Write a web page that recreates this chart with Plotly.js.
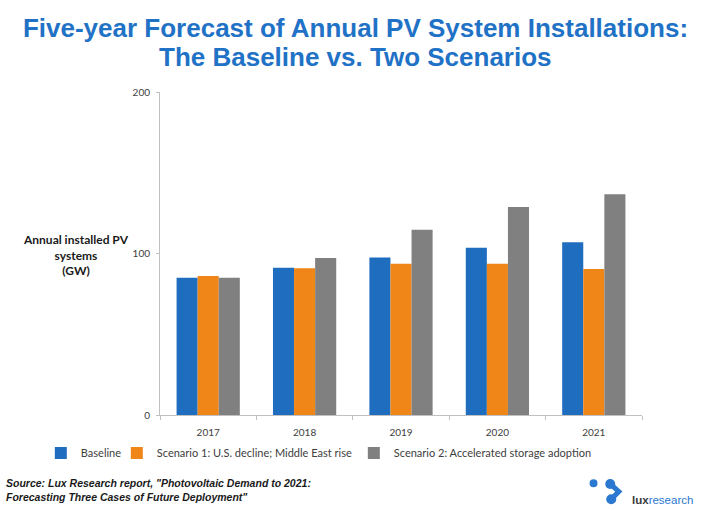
<!DOCTYPE html>
<html>
<head>
<meta charset="utf-8">
<script src="https://cdn.plot.ly/plotly-3.0.1.min.js"></script>
<style>html,body{margin:0;padding:0;background:#fff;}#chart{width:711px;height:511px;}</style>
</head>
<body>
<div id="chart"></div>
<script>
// ---- data ----
var years = ["2017", "2018", "2019", "2020", "2021"];
var baseline = [85.0, 91.2, 97.6, 103.6, 106.9];
var scenario1 = [86.1, 90.8, 93.7, 93.7, 90.4];
var scenario2 = [85.0, 97.2, 114.7, 128.8, 136.7];
var seriesNames = ["Baseline", "Scenario 1: U.S. decline; Middle East rise", "Scenario 2: Accelerated storage adoption"];
var yTickVals = [0, 100, 200];
var yTickText = ["0", "100", "200"];
var titleLine1 = "Five-year Forecast of Annual PV System Installations:";
var titleLine2 = "The Baseline vs. Two Scenarios";

// ---- layout geometry ----
var W = 711, H = 511;
var M = {l: 160, r: 68.5, t: 91.7, b: 96};
var PW = W - M.l - M.r, PH = H - M.t - M.b;
function px(x) { return (x - M.l) / PW; }
function py(y) { return (H - M.b - y) / PH; }

var colors = ["#1f6dbf", "#f08518", "#808080"];
var legW = [31, 192, 210];
var vals = [baseline, scenario1, scenario2];

var traces = vals.map(function (v, i) {
  return {
    type: "bar", x: years, y: v, name: seriesNames[i],
    marker: {color: colors[i], line: {width: 0}},
    legendwidth: legW[i],
    hoverinfo: "x+y+name"
  };
});

var logoBlue = "#2a78cf";
var titleBlue = "#1f72c6";
var shapes = [
  {type: "path", xref: "paper", yref: "paper",
   path: "M" + px(610.7) + "," + py(484) + " L" + px(619.3) + "," + py(491.7) + " L" + px(611.7) + "," + py(499.3),
   line: {color: logoBlue, width: 5}},
  {type: "circle", xref: "paper", yref: "paper", x0: px(590), x1: px(598), y0: py(487.3), y1: py(479.3),
   fillcolor: logoBlue, line: {width: 0}},
  {type: "circle", xref: "paper", yref: "paper", x0: px(605.7), x1: px(615.7), y0: py(489), y1: py(479),
   fillcolor: logoBlue, line: {width: 0}},
  {type: "circle", xref: "paper", yref: "paper", x0: px(606.7), x1: px(616.7), y0: py(504.3), y1: py(494.3),
   fillcolor: logoBlue, line: {width: 0}}
];

var titleFont = {family: "Arial, 'Liberation Sans', sans-serif", size: 26, color: titleBlue};

var layout = {
  width: W, height: H,
  margin: M,
  paper_bgcolor: "#ffffff", plot_bgcolor: "#ffffff",
  font: {family: "Lato, 'Open Sans', sans-serif", color: "#404040", size: 11},
  title: {
    text: "<b>" + titleLine1 + "</b>",
    font: titleFont,
    x: 0.5, xanchor: "center", xref: "container",
    y: 1 - 28 / H, yanchor: "middle", yref: "container"
  },
  barmode: "group",
  bargap: 0.344,
  bargroupgap: 0,
  xaxis: {
    type: "category",
    showline: true, linecolor: "#c0c0c0", linewidth: 1,
    ticks: "outside", tickson: "boundaries", ticklen: 4, tickcolor: "#c0c0c0",
    tickfont: {size: 10, color: "#404040"},
    ticklabelstandoff: 8,
    showgrid: false, zeroline: false,
    fixedrange: true
  },
  yaxis: {
    range: [0, 200],
    tickvals: yTickVals, ticktext: yTickText,
    showline: true, linecolor: "#c0c0c0", linewidth: 1,
    ticks: "outside", ticklen: 3, tickcolor: "#c0c0c0",
    tickfont: {size: 10, color: "#404040"},
    ticklabelstandoff: 4,
    showgrid: false, zeroline: false,
    fixedrange: true
  },
  showlegend: true,
  legend: {
    orientation: "h",
    xref: "paper", yref: "paper",
    x: px(40.7), xanchor: "left",
    y: py(438.5), yanchor: "top",
    itemwidth: 30,
    font: {size: 11, color: "#404040"},
    bgcolor: "rgba(0,0,0,0)",
    itemclick: false, itemdoubleclick: false
  },
  shapes: shapes,
  annotations: [
    {text: "<b>" + titleLine2 + "</b>", xref: "paper", yref: "paper",
     x: px(355.5), y: py(57), xanchor: "center", yanchor: "middle", showarrow: false,
     font: titleFont},
    {text: "<b>Annual installed PV<br>systems<br>(GW)</b>", xref: "paper", yref: "paper",
     x: px(76), y: py(255), xanchor: "center", yanchor: "middle", align: "center", showarrow: false,
     font: {size: 12, color: "#1a1a1a"}},
    {text: "<b><i>Source: Lux Research report, \"Photovoltaic Demand to 2021:<br>Forecasting Three Cases of Future Deployment\"</i></b>",
     xref: "paper", yref: "paper", x: px(4), y: py(490), xanchor: "left", yanchor: "middle", align: "left",
     showarrow: false, font: {family: "Arial, 'Liberation Sans', sans-serif", size: 10.5, color: "#1a1a1a"}},
    {text: "<b>lux</b><span style=\"color:" + logoBlue + "\">research</span>",
     xref: "paper", yref: "paper", x: px(630), y: py(500), xanchor: "left", yanchor: "middle",
     showarrow: false, font: {family: "Arial, 'Liberation Sans', sans-serif", size: 11.5, color: "#3a3a3a"}}
  ]
};

Plotly.newPlot("chart", traces, layout, {displayModeBar: false});
</script>
</body>
</html>
